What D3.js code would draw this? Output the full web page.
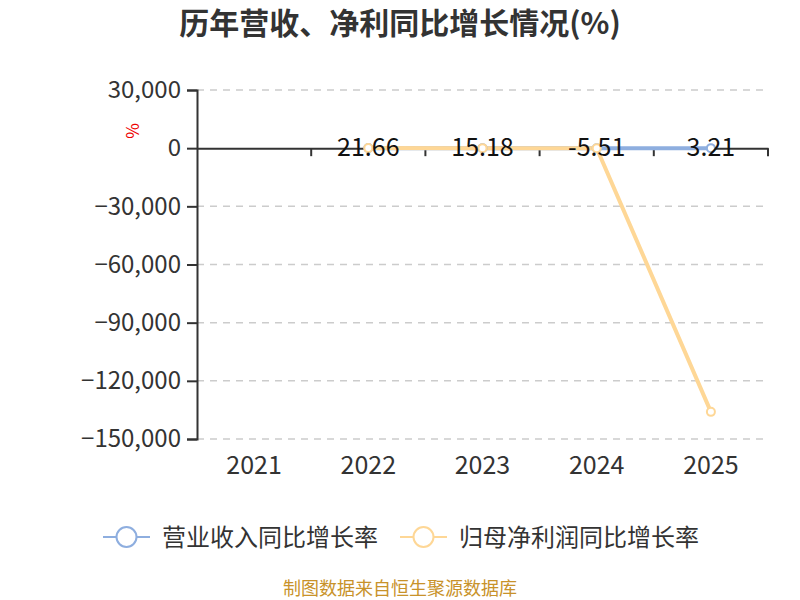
<!DOCTYPE html>
<html><head><meta charset="utf-8">
<script src="https://cdn.jsdelivr.net/npm/d3@7"></script>
<style>body{margin:0;background:#fff;} text{font-family:"Microsoft YaHei","Noto Sans CJK SC","Noto Sans",sans-serif;}</style>
</head><body>
<svg id="c" width="800" height="600"></svg>
<script>
const categories = ["2021","2022","2023","2024","2025"];
const revenueGrowth = [null, 21.66, 15.18, -5.51, 3.21];
const profitGrowth = [null, 30, 20, -10, -136000];
const yTicks = [30000, 0, -30000, -60000, -90000, -120000, -150000];
const seriesNames = ["营业收入同比增长率", "归母净利润同比增长率"];
const colors = ["#8eaedf", "#fed796"];

(function () {
const svg = d3.select("#c");
const pl = 197, pr = 768, pt = 90, pb = 439;
const x = d3.scaleBand().domain(categories).range([pl, pr]);
const y = d3.scaleLinear().domain([-150000, 30000]).range([pb, pt]);

svg.append("text").attr("x", 400).attr("y", 34).attr("text-anchor", "middle")
  .attr("font-size", 30).attr("font-weight", "bold").attr("fill", "#333")
  .text("历年营收、净利同比增长情况(%)");

// grid
svg.append("g").selectAll("line").data(yTicks.filter(d => d !== 0)).join("line")
  .attr("x1", pl).attr("x2", pr).attr("y1", d => y(d)).attr("y2", d => y(d))
  .attr("stroke", "#ccc").attr("stroke-width", 1.5).attr("stroke-dasharray", "7,6");

// y axis
const ya = svg.append("g").attr("transform", `translate(${pl},0)`)
  .call(d3.axisLeft(y).tickValues(yTicks).tickSize(10).tickPadding(6).tickFormat(d3.format(",")));
ya.select(".domain").attr("stroke", "#333").attr("stroke-width", 2);
ya.selectAll(".tick line").attr("stroke", "#333").attr("stroke-width", 2);
ya.selectAll(".tick text").attr("font-size", 24).attr("fill", "#333")
  .attr("font-family", '"Microsoft YaHei","Noto Sans CJK SC",sans-serif');

// x axis at zero
const xa = svg.append("g").attr("transform", `translate(0,${y(0)})`)
  .call(d3.axisBottom(x).tickSize(0).tickFormat(""));
xa.select(".domain").attr("stroke", "#333").attr("stroke-width", 2);
const bounds = categories.map((c) => x(c)).concat([pr]);
svg.append("g").selectAll("line").data(bounds.slice(1)).join("line")
  .attr("x1", d => d).attr("x2", d => d).attr("y1", y(0)).attr("y2", y(0) + 8)
  .attr("stroke", "#333").attr("stroke-width", 2);
svg.append("g").selectAll("text").data(categories).join("text")
  .attr("x", d => x(d) + x.bandwidth() / 2).attr("y", 474).attr("text-anchor", "middle")
  .attr("font-size", 25).attr("fill", "#333").text(d => d);

// unit label
svg.append("text").attr("transform", "translate(139,131) rotate(-90)").attr("text-anchor", "middle")
  .attr("font-size", 17).attr("fill", "#e00").text("%");

const line = d3.line().defined(d => d.v !== null)
  .x(d => x(d.c) + x.bandwidth() / 2).y(d => y(d.v));
const series = [revenueGrowth, profitGrowth].map(arr => categories.map((c, i) => ({c, v: arr[i]})));

series.forEach((s, i) => {
  svg.append("path").datum(s).attr("d", line).attr("fill", "none")
    .attr("stroke", colors[i]).attr("stroke-width", 4);
});
series.forEach((s, i) => {
  svg.append("g").selectAll("circle").data(s.filter(d => d.v !== null)).join("circle")
    .attr("cx", d => x(d.c) + x.bandwidth() / 2).attr("cy", d => y(d.v)).attr("r", 4)
    .attr("fill", "#fff").attr("stroke", colors[i]).attr("stroke-width", 2);
});
// data labels for revenue
svg.append("g").selectAll("text").data(series[0].filter(d => d.v !== null)).join("text")
  .attr("x", d => x(d.c) + x.bandwidth() / 2).attr("y", d => y(d.v) + 8)
  .attr("text-anchor", "middle").attr("font-size", 25).attr("fill", "#111")
  .text(d => d.v);

// legend
const lg = [{x: 103, tx: 162}, {x: 400, tx: 459}];
lg.forEach((l, i) => {
  svg.append("line").attr("x1", l.x).attr("x2", l.x + 47).attr("y1", 537).attr("y2", 537)
    .attr("stroke", colors[i]).attr("stroke-width", 2);
  svg.append("circle").attr("cx", l.x + 23.5).attr("cy", 537).attr("r", 10)
    .attr("fill", "#fff").attr("stroke", colors[i]).attr("stroke-width", 2);
  svg.append("text").attr("x", l.tx).attr("y", 546).attr("font-size", 24).attr("fill", "#333")
    .text(seriesNames[i]);
});

svg.append("text").attr("x", 400).attr("y", 595).attr("text-anchor", "middle")
  .attr("font-size", 18).attr("fill", "#c8922a").text("制图数据来自恒生聚源数据库");
})();
</script>
</body></html>
